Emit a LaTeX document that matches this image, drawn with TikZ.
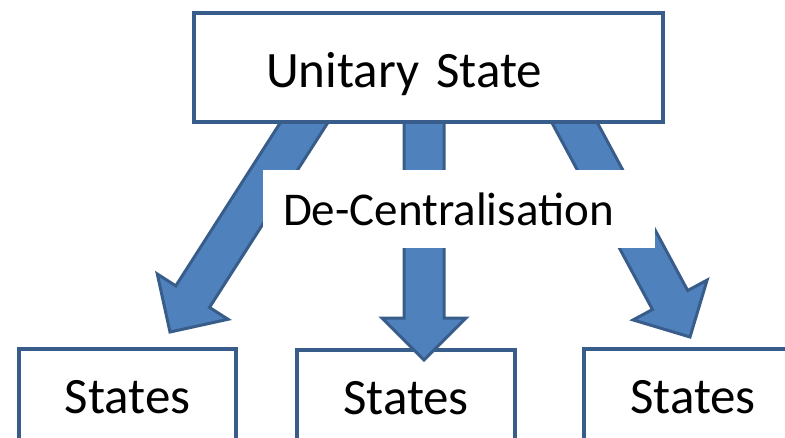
\documentclass[tikz,border=0pt]{standalone}
\usepackage{fontspec}
\setmainfont{Carlito}
\usetikzlibrary{calc}
\definecolor{ArrowBlue}{HTML}{4F81BD}
\definecolor{EdgeBlue}{HTML}{385D8A}
\tikzset{
   statebox/.style={rectangle, draw=EdgeBlue, line width=4pt, fill=white,
      font=\fontsize{51pt}{60pt}\selectfont, text height=41pt, text depth=5pt},
   blockarrow/.style={draw=EdgeBlue, fill=ArrowBlue, line width=3pt, line join=miter},
   labelbox/.style={rectangle, fill=white, align=left,
      font=\fontsize{47pt}{56pt}\selectfont, text height=37pt, text depth=5pt}
}
% fat arrow from #1 to #2 (shaft 40pt, head 84pt wide, 42pt long)
\newcommand{\fatarrow}[2]{%
   \coordinate (#1-#2) at ($(#2)!42pt!(#1)$);
   \draw [blockarrow]
      ($(#1)!20pt!90:(#2)$) -- ($(#1-#2)!20pt!90:(#2)$) -- ($(#1-#2)!42pt!90:(#2)$)
      -- (#2)
      -- ($(#1-#2)!42pt!-90:(#2)$) -- ($(#1-#2)!20pt!-90:(#2)$) -- ($(#1)!20pt!-90:(#2)$)
      -- cycle;}

\begin{document}
\begin{tikzpicture}[x=1pt, y=-1pt]
         \useasboundingbox (0,0) rectangle (785,437);

         \node (statesL) at (127.5,395) [statebox,
            minimum width=217pt, minimum height=92pt] {States};
         \node (statesM) at (406,396) [statebox,
            minimum width=218pt, minimum height=92pt] {States};
         \node (statesR) at (693,395) [statebox,
            minimum width=218pt, minimum height=92pt] {States};

         \coordinate (tailL) at (325,90);
         \coordinate (tailM) at (424,90);
         \coordinate (tailR) at (557,90);
         \coordinate (tipL) at (170,332);
         \coordinate (tipM) at (424,360);
         \coordinate (tipR) at (690,337);
         \fatarrow{tailL}{tipL}
         \fatarrow{tailM}{tipM}
         \fatarrow{tailR}{tipR}

         \node (unitary) at (428.5,67.5) [statebox, text height=45pt,
            text width=325pt, inner xsep=72pt, align=left,
            minimum height=109pt] {Unitary State};

         \node (decentral) at (459,209) [labelbox, text width=352pt,
            inner xsep=20pt, minimum height=78pt] {De-Centralisation};
      \end{tikzpicture}
\end{document}
